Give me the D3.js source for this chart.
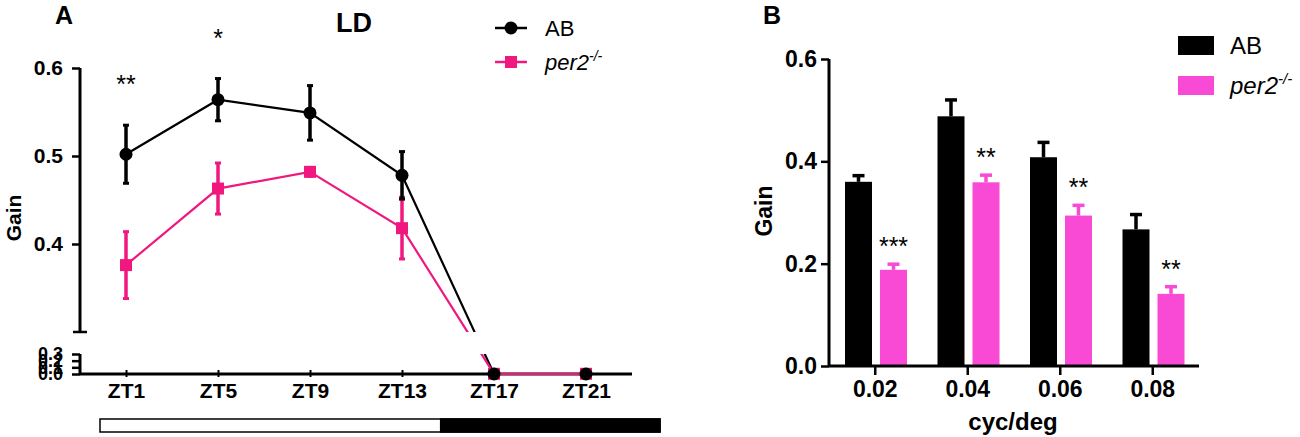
<!DOCTYPE html>
<html>
<head>
<meta charset="utf-8">
<script src="https://cdn.jsdelivr.net/npm/d3@7"></script>
<style>
  body { margin: 0; background: #fff; }
  text { font-family: "Liberation Sans", Arial, sans-serif; }
</style>
</head>
<body>
<div id="container"></div>
<script>
// panel A data
var zt = [1, 5, 9, 13, 17, 21];
var ztLabels = ["ZT1", "ZT5", "ZT9", "ZT13", "ZT17", "ZT21"];
var abMean = [0.502, 0.564, 0.549, 0.478, 0.0, 0.0];
var abErr = [0.033, 0.024, 0.031, 0.027, 0, 0];
var perMean = [0.376, 0.463, 0.482, 0.418, 0.003, 0.003];
var perErr = [0.038, 0.029, 0.005, 0.035, 0, 0];
var sigA = ["**", "*", "", "", "", ""];
var upperTicks = [0.4, 0.5, 0.6];
var lowerTicks = [0.0, 0.1, 0.2, 0.3];
var lightHours = 14.6;

// panel B data
var freqs = ["0.02", "0.04", "0.06", "0.08"];
var groups = ["AB", "per2"];
var abGain = [0.36, 0.488, 0.408, 0.267];
var abGainErr = [0.012, 0.032, 0.029, 0.029];
var perGain = [0.188, 0.359, 0.294, 0.141];
var perGainErr = [0.011, 0.014, 0.02, 0.014];
var sigB = ["***", "**", "**", "**"];
var bTicks = [0.0, 0.2, 0.4, 0.6];

var pinkA = "#f0187f";
var pinkB = "#f84ad4";

var svg = d3
  .select("#container")
  .append("svg")
  .attr("width", 1300)
  .attr("height", 437);

// ---------- panel A ----------
var x = d3.scaleLinear().domain([-1, 23]).range([80, 632]);
var yHi = d3.scaleLinear().domain([0.3, 0.6]).range([332, 68]);
var yLo = d3.scaleLinear().domain([0, 0.3]).range([374, 354]);
function y(v) {
  return v > 0.3 ? yHi(v) : yLo(v);
}

var defs = svg.append("defs");
var clip = defs.append("clipPath").attr("id", "brk");
clip.append("rect").attr("x", 0).attr("y", 0).attr("width", 700).attr("height", 332);
clip.append("rect").attr("x", 0).attr("y", 354).attr("width", 700).attr("height", 83);

var gA = svg.append("g");

// axes
var axHi = gA
  .append("g")
  .attr("transform", "translate(80,0)")
  .call(d3.axisLeft(yHi).tickValues(upperTicks).tickSize(8).tickFormat(d3.format(".1f")));
var axLo = gA
  .append("g")
  .attr("transform", "translate(80,0)")
  .call(d3.axisLeft(yLo).tickValues(lowerTicks).tickSize(8).tickFormat(d3.format(".1f")));
[axHi, axLo].forEach(function(ax) {
  ax.select(".domain").remove();
  ax.selectAll("line").attr("stroke", "#000").attr("stroke-width", 2.5);
  ax.selectAll("text")
    .attr("x", -17)
    .style("font-size", "21px")
    .style("font-weight", "bold")
    .attr("fill", "#000");
});
axLo.selectAll("text").style("font-size", "18px");
gA.append("line")
  .attr("x1", 80).attr("x2", 80)
  .attr("y1", yHi(0.6)).attr("y2", yHi(0.3))
  .attr("stroke", "#000").attr("stroke-width", 3);
gA.append("line")
  .attr("x1", 73).attr("x2", 87)
  .attr("y1", yHi(0.3)).attr("y2", yHi(0.3))
  .attr("stroke", "#000").attr("stroke-width", 2.5);
gA.append("line")
  .attr("x1", 80).attr("x2", 80)
  .attr("y1", yLo(0.3)).attr("y2", yLo(0))
  .attr("stroke", "#000").attr("stroke-width", 3);

var axX = gA
  .append("g")
  .attr("transform", "translate(0,374)")
  .call(d3.axisBottom(x).tickValues(zt).tickSize(3).tickFormat(function(d, i) { return ztLabels[i]; }));
axX.select(".domain").attr("stroke-width", 3).attr("d", "M80,0H632");
axX.selectAll("line").attr("stroke-width", 2).attr("y1", -4);
axX.selectAll("text")
  .attr("y", 9)
  .style("font-size", "21px")
  .style("font-weight", "bold")
  .attr("fill", "#000");

gA.append("text")
  .attr("transform", "translate(21,218) rotate(-90)")
  .attr("text-anchor", "middle")
  .style("font-size", "21px")
  .style("font-weight", "bold")
  .text("Gain");

// series
var pts = zt.map(function(d, i) {
  return { t: d, ab: abMean[i], abE: abErr[i], per: perMean[i], perE: perErr[i] };
});
var lineAB = d3.line().x(function(d) { return x(d.t); }).y(function(d) { return y(d.ab); });
var linePer = d3.line().x(function(d) { return x(d.t); }).y(function(d) { return y(d.per); });

gA.append("path")
  .attr("d", lineAB(pts))
  .attr("fill", "none").attr("stroke", "#000").attr("stroke-width", 2.2)
  .attr("clip-path", "url(#brk)");
gA.append("path")
  .attr("d", linePer(pts))
  .attr("fill", "none").attr("stroke", pinkA).attr("stroke-width", 2.2)
  .attr("clip-path", "url(#brk)");

function errBars(g, key, errKey, color) {
  var e = g.selectAll(null).data(pts.filter(function(d) { return d[errKey] > 0; })).enter();
  e.append("line")
    .attr("x1", function(d) { return x(d.t); })
    .attr("x2", function(d) { return x(d.t); })
    .attr("y1", function(d) { return y(d[key] + d[errKey]); })
    .attr("y2", function(d) { return y(d[key] - d[errKey]); })
    .attr("stroke", color).attr("stroke-width", 3.5);
  [1, -1].forEach(function(s) {
    e.append("line")
      .attr("x1", function(d) { return x(d.t) - 3; })
      .attr("x2", function(d) { return x(d.t) + 3; })
      .attr("y1", function(d) { return y(d[key] + s * d[errKey]); })
      .attr("y2", function(d) { return y(d[key] + s * d[errKey]); })
      .attr("stroke", color).attr("stroke-width", 3);
  });
}

errBars(gA, "per", "perE", pinkA);
gA.selectAll(".sq")
  .data(pts)
  .enter()
  .append("rect")
  .attr("x", function(d) { return x(d.t) - 6; })
  .attr("y", function(d) { return y(d.per) - 6; })
  .attr("width", 12).attr("height", 12)
  .attr("fill", pinkA);
errBars(gA, "ab", "abE", "#000");
gA.selectAll(".dot")
  .data(pts)
  .enter()
  .append("circle")
  .attr("cx", function(d) { return x(d.t); })
  .attr("cy", function(d) { return y(d.ab); })
  .attr("r", 6.5)
  .attr("fill", "#000");

gA.selectAll(".sig")
  .data(pts)
  .enter()
  .append("text")
  .attr("x", function(d) { return x(d.t); })
  .attr("y", function(d) { return y(d.ab + d.abE) - 32; })
  .attr("text-anchor", "middle")
  .style("font-size", "25px")
  .text(function(d, i) { return sigA[i]; });

// light/dark bar
var xb = d3.scaleLinear().domain([0, 24]).range([100, 660]);
gA.append("rect")
  .attr("x", xb(0)).attr("y", 419)
  .attr("width", xb(24) - xb(0)).attr("height", 13)
  .attr("fill", "#fff").attr("stroke", "#000").attr("stroke-width", 1.5);
gA.append("rect")
  .attr("x", xb(lightHours)).attr("y", 419)
  .attr("width", xb(24) - xb(lightHours)).attr("height", 13)
  .attr("fill", "#000").attr("stroke", "#000").attr("stroke-width", 1.5);

// titles
gA.append("text").attr("x", 55).attr("y", 24)
  .style("font-size", "25px").style("font-weight", "bold").text("A");
gA.append("text").attr("x", 336).attr("y", 32)
  .style("font-size", "27px").style("font-weight", "bold").text("LD");

// legend A
gA.append("line").attr("x1", 495).attr("x2", 527).attr("y1", 28).attr("y2", 28)
  .attr("stroke", "#000").attr("stroke-width", 2.5);
gA.append("circle").attr("cx", 511).attr("cy", 28).attr("r", 6.5).attr("fill", "#000");
gA.append("text").attr("x", 545).attr("y", 36).style("font-size", "22px").text("AB");
gA.append("line").attr("x1", 495).attr("x2", 527).attr("y1", 62).attr("y2", 62)
  .attr("stroke", pinkA).attr("stroke-width", 2.5);
gA.append("rect").attr("x", 505).attr("y", 56).attr("width", 12).attr("height", 12).attr("fill", pinkA);
var lgA = gA.append("text").attr("x", 545).attr("y", 70).style("font-size", "22px");
lgA.append("tspan").style("font-style", "italic").text("per2");
lgA.append("tspan").attr("dy", -9).style("font-size", "14px").style("font-style", "italic").text("-/-");

// ---------- panel B ----------
var x0 = d3.scaleBand().domain(freqs).range([829, 1199]);
var x1 = d3.scaleBand().domain(groups).range([16, 78]).paddingInner(0.2286);
var yB = d3.scaleLinear().domain([0, 0.6]).range([366, 59]);

var gB = svg.append("g");

var bars = freqs.map(function(f, i) {
  return [
    { f: f, g: "AB", v: abGain[i], e: abGainErr[i] },
    { f: f, g: "per2", v: perGain[i], e: perGainErr[i] }
  ];
});
var flat = [].concat.apply([], bars);
var colorB = d3.scaleOrdinal().domain(groups).range(["#000", pinkB]);

gB.selectAll(".errb")
  .data(flat)
  .enter()
  .append("line")
  .attr("x1", function(d) { return x0(d.f) + x1(d.g) + x1.bandwidth() / 2; })
  .attr("x2", function(d) { return x0(d.f) + x1(d.g) + x1.bandwidth() / 2; })
  .attr("y1", function(d) { return yB(d.v); })
  .attr("y2", function(d) { return yB(d.v + d.e); })
  .attr("stroke", function(d) { return colorB(d.g); })
  .attr("stroke-width", 3.5);
gB.selectAll(".capb")
  .data(flat)
  .enter()
  .append("line")
  .attr("x1", function(d) { return x0(d.f) + x1(d.g) + x1.bandwidth() / 2 - 6; })
  .attr("x2", function(d) { return x0(d.f) + x1(d.g) + x1.bandwidth() / 2 + 6; })
  .attr("y1", function(d) { return yB(d.v + d.e); })
  .attr("y2", function(d) { return yB(d.v + d.e); })
  .attr("stroke", function(d) { return colorB(d.g); })
  .attr("stroke-width", 3.5);
gB.selectAll(".bar")
  .data(flat)
  .enter()
  .append("rect")
  .attr("x", function(d) { return x0(d.f) + x1(d.g); })
  .attr("y", function(d) { return yB(d.v); })
  .attr("width", x1.bandwidth())
  .attr("height", function(d) { return yB(0) - yB(d.v); })
  .attr("fill", function(d) { return colorB(d.g); });

gB.selectAll(".sigb")
  .data(flat.filter(function(d) { return d.g === "per2"; }))
  .enter()
  .append("text")
  .attr("x", function(d) { return x0(d.f) + x1(d.g) + x1.bandwidth() / 2; })
  .attr("y", function(d) { return yB(d.v + d.e) - 9; })
  .attr("text-anchor", "middle")
  .style("font-size", "25px")
  .text(function(d, i) { return sigB[i]; });

var axBY = gB
  .append("g")
  .attr("transform", "translate(829,0)")
  .call(d3.axisLeft(yB).tickValues(bTicks).tickSize(8).tickFormat(d3.format(".1f")));
axBY.select(".domain").attr("stroke-width", 3).attr("d", "M0," + yB(0.6) + "V" + yB(0));
axBY.selectAll("line").attr("stroke-width", 2.5);
axBY.selectAll("text")
  .attr("x", -12)
  .style("font-size", "23px")
  .style("font-weight", "bold")
  .attr("fill", "#000");

var axBX = gB
  .append("g")
  .attr("transform", "translate(0,366)")
  .call(d3.axisBottom(x0).tickSize(9));
axBX.select(".domain").attr("stroke-width", 3).attr("d", "M829,0H1199");
axBX.selectAll("line").attr("stroke-width", 2.5);
axBX.selectAll("text")
  .attr("y", 15)
  .style("font-size", "23px")
  .style("font-weight", "bold")
  .attr("fill", "#000");

gB.append("text")
  .attr("transform", "translate(772,211) rotate(-90)")
  .attr("text-anchor", "middle")
  .style("font-size", "23px")
  .style("font-weight", "bold")
  .text("Gain");
gB.append("text")
  .attr("x", 1013).attr("y", 430)
  .attr("text-anchor", "middle")
  .style("font-size", "24px")
  .style("font-weight", "bold")
  .text("cyc/deg");
gB.append("text").attr("x", 763).attr("y", 24)
  .style("font-size", "25px").style("font-weight", "bold").text("B");

// legend B
gB.selectAll(".lgb")
  .data(groups)
  .enter()
  .append("rect")
  .attr("x", 1178)
  .attr("y", function(d, i) { return 36 + i * 40; })
  .attr("width", 36).attr("height", 19)
  .attr("fill", function(d) { return colorB(d); });
gB.append("text").attr("x", 1230).attr("y", 54).style("font-size", "24px").text("AB");
var lgB = gB.append("text").attr("x", 1230).attr("y", 94).style("font-size", "24px");
lgB.append("tspan").style("font-style", "italic").text("per2");
lgB.append("tspan").attr("dy", -10).style("font-size", "15px").style("font-style", "italic").text("-/-");
</script>
</body>
</html>
